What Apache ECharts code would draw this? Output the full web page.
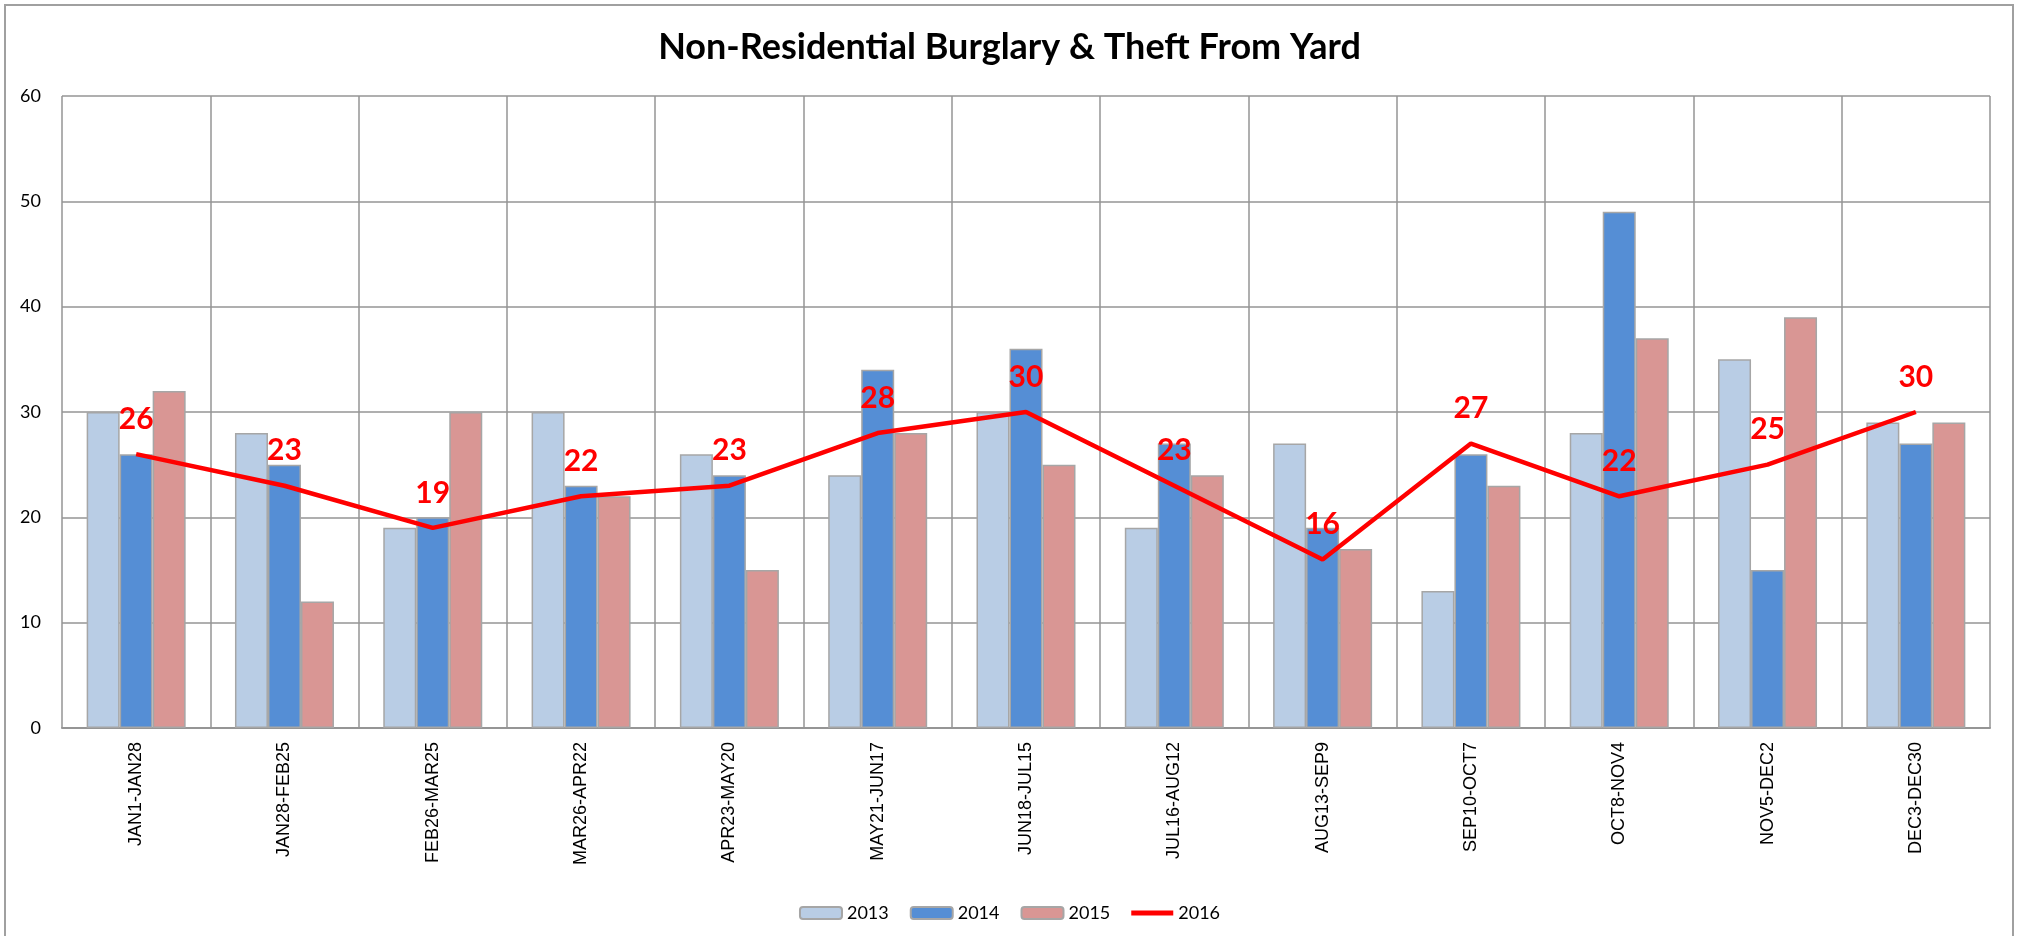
<!DOCTYPE html>
<html>
<head>
<meta charset="utf-8">
<title>Non-Residential Burglary & Theft From Yard</title>
<script src="https://cdn.jsdelivr.net/npm/echarts@6/dist/echarts.min.js"></script>
<style>
  html, body { margin: 0; padding: 0; background: #fff; }
  #chart { width: 2019px; height: 936px; }
</style>
</head>
<body>
<div id="chart"></div>
<script>
// periods (4-week windows)
const periods = ['JAN1-JAN28', 'JAN28-FEB25', 'FEB26-MAR25', 'MAR26-APR22', 'APR23-MAY20',
  'MAY21-JUN17', 'JUN18-JUL15', 'JUL16-AUG12', 'AUG13-SEP9', 'SEP10-OCT7',
  'OCT8-NOV4', 'NOV5-DEC2', 'DEC3-DEC30'];

const y2013 = [30, 28, 19, 30, 26, 24, 30, 19, 27, 13, 28, 35, 29];
const y2014 = [26, 25, 20, 23, 24, 34, 36, 27, 19, 26, 49, 15, 27];
const y2015 = [32, 12, 30, 22, 15, 28, 25, 24, 17, 23, 37, 39, 29];
const y2016 = [26, 23, 19, 22, 23, 28, 30, 23, 16, 27, 22, 25, 30];

const gridColor = '#959595';
const barBorder = '#a6a6a6';

const chart = echarts.init(document.getElementById('chart'));

function barSeries(name, data, color) {
  return {
    name: name,
    type: 'bar',
    data: data,
    barWidth: 33,
    barGap: '0%',
    itemStyle: { color: color, borderColor: barBorder, borderWidth: 1.5 },
    emphasis: { disabled: true }
  };
}

chart.setOption({
  animation: false,
  title: {
    text: 'Non-Residential Burglary & Theft From Yard',
    left: 'center',
    top: 24,
    textStyle: { fontFamily: 'Lato', fontWeight: 'bold', fontSize: 36, color: '#000' }
  },
  legend: {
    left: 'center',
    top: 899,
    itemWidth: 42,
    itemHeight: 12,
    itemGap: 21,
    textStyle: { fontFamily: 'Lato', fontSize: 18, color: '#000' },
    data: ['2013', '2014', '2015',
      // plain thick line, no marker
      { name: '2016', icon: 'path://M0,0H42V5H0Z' }]
  },
  grid: { left: 62, right: 29, top: 96, bottom: 208 },
  xAxis: {
    type: 'category',
    data: periods,
    axisLine: { lineStyle: { color: gridColor, width: 2 } },
    axisTick: { show: false },
    splitLine: { show: true, lineStyle: { color: gridColor, width: 1.5 } },
    axisLabel: {
      rotate: 90,
      interval: 0,
      margin: 14,
      fontFamily: 'Liberation Sans',
      fontSize: 18,
      color: '#000'
    }
  },
  yAxis: {
    type: 'value',
    min: 0,
    max: 60,
    interval: 10,
    axisLine: { show: false },
    axisTick: { show: false },
    splitLine: { lineStyle: { color: gridColor, width: 1.5 } },
    axisLabel: { margin: 21, fontFamily: 'Lato', fontSize: 18, color: '#000' }
  },
  series: [
    barSeries('2013', y2013, '#b9cde5'),
    barSeries('2014', y2014, '#558ed5'),
    barSeries('2015', y2015, '#d99694'),
    {
      name: '2016',
      type: 'line',
      data: y2016,
      symbol: 'circle',
      symbolSize: 0,
      z: 5,
      lineStyle: { color: '#ff0000', width: 4.5 },
      itemStyle: { color: '#ff0000' },
      label: {
        show: true,
        position: 'top',
        distance: 20,
        fontFamily: 'Lato',
        fontWeight: 'bold',
        fontSize: 30,
        color: '#ff0000'
      },
      emphasis: { disabled: true }
    }
  ],
  graphic: [{
    type: 'rect',
    silent: true,
    shape: { x: 5, y: 5, width: 2008, height: 940 },
    style: { fill: 'none', stroke: '#a0a0a0', lineWidth: 2 }
  }]
});
</script>
</body>
</html>
